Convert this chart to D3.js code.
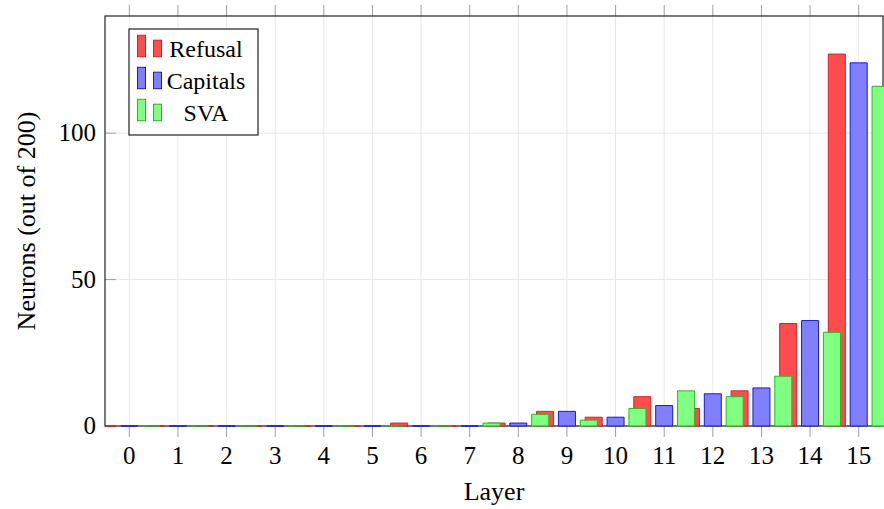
<!DOCTYPE html>
<html>
<head>
<meta charset="utf-8">
<script src="https://cdn.jsdelivr.net/npm/d3@7"></script>
<style>
  body { margin: 0; background: #fff; }
  svg { display: block; }
  text { font-family: "Liberation Serif", "DejaVu Serif", serif; fill: #000; }
</style>
</head>
<body>
<svg width="884" height="509"></svg>
<script>
// layers 0..15
var layers = d3.range(0, 16);
var refusal  = [0, 0, 0, 0, 0, 0, 1, 0, 1, 5, 3, 10, 6, 12, 35, 127];
var capitals = [0, 0, 0, 0, 0, 0, 0, 0, 1, 5, 3, 7, 11, 13, 36, 124];
var sva      = [0, 0, 0, 0, 0, 0, 0, 1, 4, 2, 6, 12, 10, 17, 32, 116];
var yTicks = [0, 50, 100];

var series = [
  {name: "Refusal",  values: refusal,  shift: -0.45, fill: "#ff4d4d", stroke: "#d92020"},
  {name: "Capitals", values: capitals, shift: 0,     fill: "#8080ff", stroke: "#1a1acc"},
  {name: "SVA",      values: sva,      shift: 0.45,  fill: "#80ff80", stroke: "#22bb22"}
];

drawChart();

function drawChart() {
  var svg = d3.select("svg"),
      pLeft = 105, pRight = 883, pTop = 16, pBottom = 426;

  var x = d3.scaleLinear().domain([-0.5, 15.5]).range([pLeft, pRight]);
  var y = d3.scaleLinear().domain([0, 140]).range([pBottom, pTop]);
  var barW = 0.35;

  svg.append("defs").append("clipPath").attr("id", "plotclip")
    .append("rect")
    .attr("x", pLeft).attr("y", pTop - 5)
    .attr("width", pRight - pLeft + 2).attr("height", pBottom - pTop + 10);

  // grid
  svg.append("g").selectAll("line")
    .data(layers).enter().append("line")
    .attr("x1", function(d) { return x(d); }).attr("x2", function(d) { return x(d); })
    .attr("y1", pTop).attr("y2", pBottom)
    .attr("stroke", "#e8e8e8").attr("stroke-width", 1);
  svg.append("g").selectAll("line")
    .data(yTicks).enter().append("line")
    .attr("x1", pLeft).attr("x2", pRight)
    .attr("y1", function(d) { return y(d); }).attr("y2", function(d) { return y(d); })
    .attr("stroke", "#e8e8e8").attr("stroke-width", 1);

  // ticks
  svg.append("g").selectAll("line")
    .data(layers).enter().append("line")
    .attr("x1", function(d) { return x(d); }).attr("x2", function(d) { return x(d); })
    .attr("y1", pBottom).attr("y2", pBottom + 11)
    .attr("stroke", "#a0a0a0");
  svg.append("g").selectAll("line")
    .data(layers).enter().append("line")
    .attr("x1", function(d) { return x(d); }).attr("x2", function(d) { return x(d); })
    .attr("y1", pTop - 11).attr("y2", pTop)
    .attr("stroke", "#a0a0a0");
  svg.append("g").selectAll("line")
    .data(yTicks).enter().append("line")
    .attr("x1", pLeft).attr("x2", pLeft + 11)
    .attr("y1", function(d) { return y(d); }).attr("y2", function(d) { return y(d); })
    .attr("stroke", "#a0a0a0");

  // frame
  svg.append("rect")
    .attr("x", pLeft).attr("y", pTop)
    .attr("width", pRight - pLeft).attr("height", pBottom - pTop)
    .attr("fill", "none").attr("stroke", "#222").attr("stroke-width", 1.2);

  // bars
  var plot = svg.append("g").attr("clip-path", "url(#plotclip)");
  series.forEach(function(s) {
    plot.append("g").selectAll("path")
      .data(layers).enter().append("path")
      .attr("d", function(d) {
        var x0 = x(d + s.shift - barW / 2), x1 = x(d + s.shift + barW / 2);
        var y0 = y(0), y1 = y(s.values[d]);
        return "M" + x0 + "," + y0 + "V" + y1 + "H" + x1 + "V" + y0 + "Z";
      })
      .attr("fill", s.fill)
      .attr("stroke", s.stroke)
      .attr("stroke-width", 1);
  });

  // tick labels
  svg.append("g").selectAll("text")
    .data(layers).enter().append("text")
    .attr("x", function(d) { return x(d); })
    .attr("y", 464)
    .attr("text-anchor", "middle")
    .attr("font-size", 25)
    .text(function(d) { return d; });
  svg.append("g").selectAll("text")
    .data(yTicks).enter().append("text")
    .attr("x", 96)
    .attr("y", function(d) { return y(d) + 8; })
    .attr("text-anchor", "end")
    .attr("font-size", 25)
    .text(function(d) { return d; });

  // axis titles
  svg.append("text")
    .attr("x", x(7.5)).attr("y", 500)
    .attr("text-anchor", "middle")
    .attr("font-size", 26)
    .text("Layer");
  svg.append("text")
    .attr("transform", "translate(35," + ((pTop + pBottom) / 2) + ") rotate(-90)")
    .attr("text-anchor", "middle")
    .attr("font-size", 26)
    .text("Neurons (out of 200)");

  // legend
  var legend = svg.append("g");
  legend.append("rect")
    .attr("x", 129).attr("y", 29).attr("width", 129).attr("height", 106)
    .attr("fill", "#fff").attr("stroke", "#222").attr("stroke-width", 1.2);
  series.forEach(function(s, i) {
    var base = 56.7 + i * 32;
    legend.append("rect")
      .attr("x", 137.5).attr("y", base - 21.4).attr("width", 8).attr("height", 21.4)
      .attr("fill", s.fill).attr("stroke", s.stroke);
    legend.append("rect")
      .attr("x", 153.5).attr("y", base - 16.5).attr("width", 8).attr("height", 16.5)
      .attr("fill", s.fill).attr("stroke", s.stroke);
    legend.append("text")
      .attr("x", 206).attr("y", base + 0.5)
      .attr("text-anchor", "middle")
      .attr("font-size", 24)
      .text(s.name);
  });
}
</script>
</body>
</html>
